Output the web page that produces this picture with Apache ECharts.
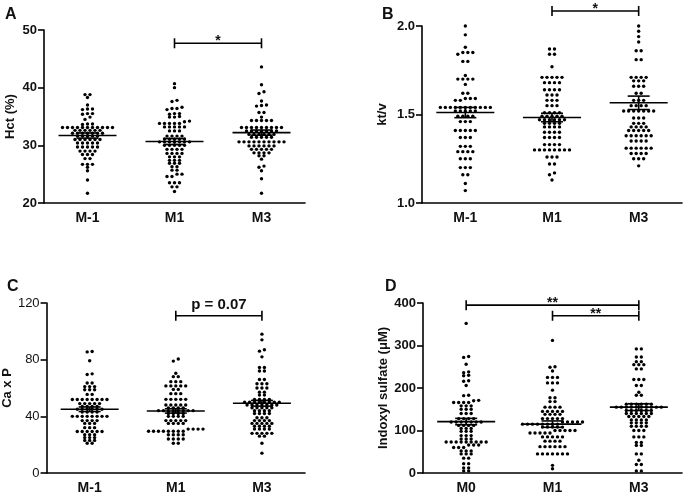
<!DOCTYPE html>
<html><head><meta charset="utf-8">
<script src="https://cdn.jsdelivr.net/npm/echarts@6/dist/echarts.min.js"></script>
<style>html,body{margin:0;padding:0;background:#fff}#c{width:685px;height:495px}</style>
</head><body><div id="c"></div>
<script>
// ---------- DATA ----------
const catsA = ['M-1', 'M1', 'M3'];
const catsB = ['M-1', 'M1', 'M3'];
const catsC = ['M-1', 'M1', 'M3'];
const catsD = ['M0', 'M1', 'M3'];

const hct_Mm1 = [38.8,38.8,38.3,37.0,36.3,36.3,36.2,35.5,35.5,35.4,34.9,34.5,33.7,33.7,33.6,
  33.1,33.1,33.1,33.1,33.1,33.1,33.1,33.1,33.1,33.1,33.1,
  32.6,32.6,32.6,32.6,32.6,32.6,
  32.1,32.1,32.1,32.1,32.1,32.1,32.1,
  31.6,31.6,31.6,31.6,31.6,
  31.0,31.0,31.0,31.0,31.0,31.0,
  30.4,30.4,30.4,30.4,30.4,
  29.7,29.7,29.7,29.7,29.7,
  29.0,29.0,29.0,29.0,
  28.4,28.4,28.4,27.7,27.7,26.7,26.7,26.7,26.2,25.6,24.0,21.7];
const hct_M1 = [40.7,40.0,37.8,37.6,36.6,36.4,36.4,36.2,35.5,35.5,35.4,35.0,34.9,34.9,34.2,34.1,
  33.8,33.8,33.8,33.8,33.8,
  33.2,33.2,33.2,33.2,33.2,
  32.5,32.5,32.5,
  31.6,31.6,31.6,31.6,
  31.1,31.1,31.1,31.1,31.1,
  30.6,30.6,30.6,30.6,30.6,30.6,30.6,
  30.0,30.0,30.0,30.0,30.0,
  29.3,29.3,29.3,29.3,
  28.6,28.6,28.6,28.6,
  28.0,28.0,28.0,27.4,27.4,27.4,26.9,26.9,26.9,26.3,26.3,25.7,25.7,25.0,25.0,24.6,24.6,
  23.5,23.5,23.5,22.8,22.8,22.0];
const hct_M3 = [43.6,40.5,39.3,39.0,37.7,37.0,36.9,36.8,35.7,35.7,34.9,
  34.3,34.3,34.3,34.3,34.3,
  33.1,33.1,33.1,33.1,33.1,33.1,33.1,33.1,33.1,
  32.5,32.5,32.5,32.5,32.5,32.5,32.5,
  31.9,31.9,31.9,31.9,31.9,31.9,
  31.4,31.4,31.4,31.4,31.4,
  30.6,30.6,30.6,30.6,30.6,30.6,30.6,30.6,30.6,30.6,
  29.9,29.9,29.9,29.9,29.9,29.9,
  29.3,29.3,29.3,29.3,29.3,
  28.7,28.7,28.7,28.7,
  28.2,28.2,27.6,26.4,26.2,25.6,24.2,21.7];

const ktv_Mm1 = [2.00,1.95,1.88,1.85,1.85,1.85,1.84,1.80,1.80,1.72,1.70,1.70,1.70,1.70,1.67,1.62,1.62,
  1.59,1.59,1.59,1.58,1.58,
  1.54,1.54,1.54,1.54,1.54,1.54,1.54,1.54,1.54,1.54,1.54,
  1.52,1.52,1.52,1.52,1.52,
  1.49,1.49,1.49,1.49,1.46,1.46,1.46,
  1.41,1.41,1.41,1.41,1.41,1.37,1.37,1.37,1.32,1.32,1.32,
  1.29,1.29,1.29,1.29,1.25,1.25,1.25,1.20,1.20,1.20,1.16,1.16,1.11,1.07];
const ktv_M1 = [1.87,1.87,1.84,1.84,1.77,
  1.71,1.71,1.71,1.71,1.71,1.68,1.68,1.68,1.68,1.64,1.64,1.64,1.64,
  1.61,1.61,1.61,1.58,1.58,1.58,1.55,1.55,1.55,
  1.51,1.51,1.51,1.51,1.49,1.49,1.49,1.49,1.49,
  1.47,1.47,1.47,1.47,1.47,1.47,1.45,1.45,1.45,1.45,
  1.43,1.43,1.43,1.43,1.40,1.40,1.40,1.40,1.37,1.37,1.37,1.37,
  1.33,1.33,1.33,1.33,1.30,1.30,1.30,1.30,1.30,1.30,1.30,1.30,
  1.26,1.26,1.26,1.22,1.22,1.17,1.16,1.13];
const ktv_M3 = [2.00,1.97,1.94,1.91,1.86,1.86,1.81,1.81,
  1.71,1.71,1.71,1.71,1.69,1.69,1.69,1.66,1.66,1.66,1.62,1.62,
  1.58,1.58,1.58,1.55,1.55,1.55,1.55,
  1.52,1.52,1.52,1.52,1.52,1.52,1.52,
  1.48,1.48,1.48,1.45,1.45,1.45,1.43,1.43,1.43,1.43,
  1.41,1.41,1.41,1.41,1.41,1.38,1.38,1.38,1.38,1.38,1.38,
  1.35,1.35,1.35,1.35,1.31,1.31,1.31,1.31,1.31,1.31,
  1.28,1.28,1.28,1.28,1.25,1.25,1.25,1.21];

const cap_Mm1 = [85.8,85.5,79.2,70.0,69.5,63.5,63.5,61,61,61,58.8,58.8,58.8,55.5,55.5,
  51.9,51.9,51.9,51.9,51.9,51.9,51.9,51.9,
  49,49,49,49,49,47,47,47,47,
  45,45,45,45,45,45,43,43,43,43,
  40,40,40,40,40,40,40,40,
  37,37,37,37,35,35,35,32,32,32,
  29.3,29.3,29.3,29.3,29.3,29.3,27,27,27,25,25,25,23,23,23,21,21];
const cap_M1 = [80.5,79.0,70.4,68,68,64.5,64.5,64.5,61.5,61.5,61.5,61.5,61.5,59,59,56,56,56,
  52,52,52,52,52,48,48,48,48,48,46,46,46,46,
  44,44,44,44,44,44,44,44,42,42,42,42,40,40,40,40,
  37,37,37,37,37,35,35,35,35,31,31,31,31,
  29.5,29.5,29.5,29.5,29.5,29.5,29.5,29.5,
  27,27,27,27,24,24,24,24,21,21];
const cap_M3 = [98,94,87,86,82,74.5,74.5,72,72,66,66,63,63,63,60,60,60,57,57,55,55,
  52,52,52,52,50,50,50,50,50,50,50,50,
  48,48,48,48,48,48,48,46,46,46,46,46,44,44,44,44,42,42,42,42,
  39,39,39,37,37,37,37,35,35,35,35,35,33,33,33,33,31,31,31,31,
  28,28,28,28,28,26,26,21,14];

const ind_M0 = [352,274,272,256,238,236,230,229,217,216,206,183,182,171,170,
  166,166,166,166,158,158,158,150,150,150,140,140,140,
  128,128,128,128,120,120,120,120,120,120,120,112,112,112,112,
  105,105,105,98,98,98,88,88,88,80,80,80,
  73,73,73,73,73,73,73,73,73,66,66,66,60,60,60,52,52,52,45,45,45,
  35,35,22,22,12,12,5,5];
const ind_M1 = [312,250,249,240,225,225,225,212,212,212,195,177,177,168,168,
  155,155,155,155,145,145,145,145,145,138,138,138,138,
  128,128,128,128,128,120,120,120,120,120,
  115,115,115,115,115,115,115,115,108,108,108,108,108,
  100,100,100,100,100,94,94,94,94,94,85,85,85,85,85,75,75,75,75,
  62,62,62,62,62,62,45,45,45,45,45,45,45,18,10];
const ind_M3 = [292,292,273,273,262,262,255,255,255,245,245,220,220,220,206,206,190,183,183,
  162,162,162,162,162,162,155,155,155,155,155,155,155,155,155,155,
  147,147,147,147,147,147,140,140,140,140,140,140,133,133,133,133,133,
  125,125,125,125,118,118,118,118,110,110,110,110,100,100,100,
  85,85,85,72,72,65,65,45,45,30,20,20,5,5];

// group means and SEM
const meanA = [31.7, 30.66, 32.2];   const semA = [0.45, 0.5, 0.45];
const meanB = [1.511, 1.483, 1.566]; const semB = [0.029, 0.024, 0.038];
const meanC = [45.0, 43.8, 49.2];    const semC = [1.6, 1.5, 2.0];
const meanD = [121, 115, 155];       const semD = [7.5, 7.5, 8];

// significance brackets: [fromGroup, toGroup, yValue]
const bracketsA = [[2, 3, 47.7]];   const bracketTextA = ['*'];
const bracketsB = [[2, 3, 2.085]];  const bracketTextB = ['*'];
const bracketsC = [[2, 3, 111]];    const bracketTextC = ['p = 0.07'];
const bracketsD = [[1, 3, 395], [2, 3, 370]]; const bracketTextD = ['**', '**'];

// ---------- LAYOUT ----------
const FONT = 'Liberation Sans, Arial, Helvetica, sans-serif';
const panels = [
  {letter:'A', lx:5, ly:7, grid:{left:44, top:30, width:261, height:173}, min:20, max:50, interval:10,
   name:'Hct (%)', nameGap:27, cats:catsA, groups:[hct_Mm1,hct_M1,hct_M3], mean:meanA, sem:semA,
   br:bracketsA, brt:bracketTextA, fmt:v=>v, labelWeight:'bold'},
  {letter:'B', lx:382, ly:7, grid:{left:422, top:26, width:260, height:177}, min:1.0, max:2.0, interval:0.5,
   name:'kt/v', nameGap:33, cats:catsB, groups:[ktv_Mm1,ktv_M1,ktv_M3], mean:meanB, sem:semB,
   br:bracketsB, brt:bracketTextB, fmt:v=>v.toFixed(1), labelWeight:'bold'},
  {letter:'C', lx:7, ly:279, grid:{left:44, top:303, width:261, height:174}, min:0, max:120, interval:40,
   name:'Ca x P', nameGap:28, cats:catsC, groups:[cap_Mm1,cap_M1,cap_M3], mean:meanC, sem:semC,
   br:bracketsC, brt:bracketTextC, fmt:v=>v, labelWeight:'normal'},
  {letter:'D', lx:385, ly:279, grid:{left:423, top:303, width:259, height:173}, min:0, max:400, interval:100,
   name:'Indoxyl sulfate (\u03bcM)', nameGap:33, cats:catsD, groups:[ind_M0,ind_M1,ind_M3], mean:meanD, sem:semD,
   br:bracketsD, brt:bracketTextD, fmt:v=>v, labelWeight:'bold'}
];

const DOT = 3.4;      // symbol size, px
const ROWH = 2.6;     // values closer than this (px) share a row
const SPACING = 5.0;  // horizontal distance between dots in a row, px

// GraphPad-style scatter: nearby values form a centred horizontal row
function rowOffsets(values, pxPerY) {
  const idx = values.map((v, i) => i).sort((a, b) => values[a] - values[b]);
  const off = new Array(values.length);
  let bin = [], start = null;
  const flush = () => { bin.forEach((i, j) => { off[i] = (j - (bin.length - 1) / 2) * SPACING; }); bin = []; };
  for (const i of idx) {
    if (start === null || (values[i] - start) * pxPerY >= ROWH) { flush(); start = values[i]; }
    bin.push(i);
  }
  flush();
  return off;
}

const grid = [], xAxis = [], yAxis = [], series = [], graphic = [];
panels.forEach((P, k) => {
  grid.push(P.grid);
  xAxis.push({gridIndex:k, type:'category', data:P.cats, boundaryGap:true,
    axisLine:{onZero:false, lineStyle:{color:'#000', width:1.6}}, axisTick:{show:false},
    axisLabel:{color:'#111', fontFamily:FONT, fontWeight:'bold', fontSize:14, margin:8},
    splitLine:{show:false}});
  xAxis.push({gridIndex:k, type:'value', min:0.5, max:3.5, show:false});
  yAxis.push({gridIndex:k, type:'value', min:P.min, max:P.max, interval:P.interval,
    name:P.name, nameLocation:'middle', nameGap:P.nameGap,
    nameTextStyle:{color:'#111', fontFamily:FONT, fontWeight:'bold', fontSize:13},
    axisLine:{show:true, onZero:false, lineStyle:{color:'#000', width:1.6}},
    axisTick:{show:true, length:6, lineStyle:{color:'#000', width:1.6}},
    axisLabel:{color:'#111', fontFamily:FONT, fontWeight:P.labelWeight, fontSize:13, margin:7, formatter:P.fmt},
    splitLine:{show:false}});
  const pxPerY = P.grid.height / (P.max - P.min);
  const pxPerX = P.grid.width / 3;
  const pts = [];
  P.groups.forEach((vals, g) => {
    const off = rowOffsets(vals, pxPerY);
    vals.forEach((v, i) => pts.push([g + 1 + off[i] / pxPerX, v]));
  });
  series.push({type:'scatter', xAxisIndex:2 * k + 1, yAxisIndex:k, data:pts, symbol:'circle',
    symbolSize:DOT, itemStyle:{color:'#000', opacity:1}, silent:true, z:2});
  series.push({type:'custom', xAxisIndex:2 * k + 1, yAxisIndex:k, z:3, silent:true,
    data:P.mean.map((m, g) => [g + 1, m, P.sem[g]]),
    renderItem:(params, api) => {
      const x = api.value(0), m = api.value(1), s = api.value(2);
      const c = api.coord([x, m]), t = api.coord([x, m + s]), b = api.coord([x, m - s]);
      const st = {stroke:'#000', lineWidth:1.6};
      return {type:'group', children:[
        {type:'line', shape:{x1:c[0] - 29, y1:c[1], x2:c[0] + 29, y2:c[1]}, style:st},
        {type:'line', shape:{x1:t[0], y1:t[1], x2:b[0], y2:b[1]}, style:st},
        {type:'line', shape:{x1:t[0] - 11, y1:t[1], x2:t[0] + 11, y2:t[1]}, style:st},
        {type:'line', shape:{x1:b[0] - 11, y1:b[1], x2:b[0] + 11, y2:b[1]}, style:st}
      ]};
    }});
  series.push({type:'custom', xAxisIndex:2 * k + 1, yAxisIndex:k, z:3, silent:true, clip:false,
    data:P.br,
    renderItem:(params, api) => {
      const a = api.coord([api.value(0), api.value(2)]), b = api.coord([api.value(1), api.value(2)]);
      const st = {stroke:'#000', lineWidth:1.6};
      const txt = P.brt[params.dataIndex];
      const big = txt.length > 2;
      return {type:'group', children:[
        {type:'line', shape:{x1:a[0], y1:a[1], x2:b[0], y2:b[1]}, style:st},
        {type:'line', shape:{x1:a[0], y1:a[1] - 5, x2:a[0], y2:a[1] + 5}, style:st},
        {type:'line', shape:{x1:b[0], y1:b[1] - 5, x2:b[0], y2:b[1] + 5}, style:st},
        {type:'text', x:(a[0] + b[0]) / 2, y:a[1] - (big ? 11 : 2),
          style:{text:txt, fill:'#111', font:'bold ' + (big ? 15 : 14) + 'px ' + FONT,
            textAlign:'center', textVerticalAlign:'middle'}}
      ]};
    }});
  graphic.push({type:'text', left:P.lx, top:P.ly,
    style:{text:P.letter, fill:'#111', font:'bold 16px ' + FONT}});
});

const chart = echarts.init(document.getElementById('c'), null, {renderer:'canvas'});
chart.setOption({animation:false, backgroundColor:'#fff', grid, xAxis, yAxis, series, graphic});
</script>
</body></html>
